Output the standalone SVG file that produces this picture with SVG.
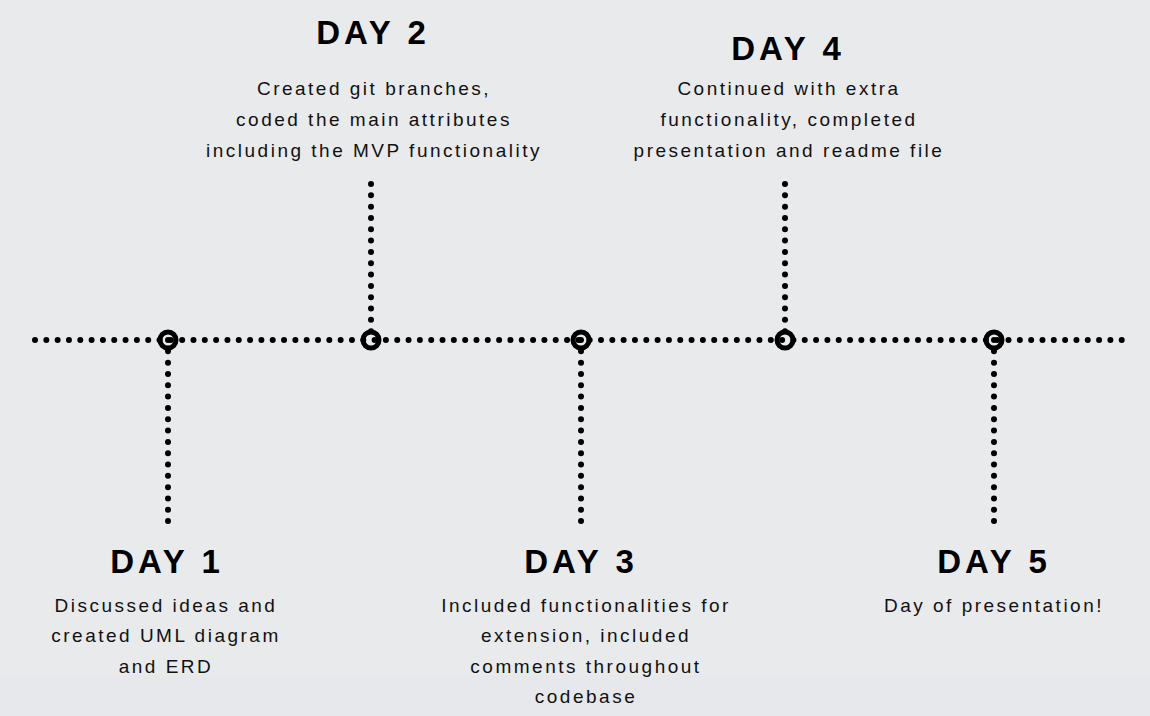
<svg xmlns="http://www.w3.org/2000/svg" width="1150" height="716" viewBox="0 0 1150 716">
  <defs>
    <style>
      .bg { fill: #e9eaec; }
      .band { fill: #e6e8eb; }
      .dots { stroke: #000; stroke-width: 6; stroke-linecap: round; stroke-dasharray: 0 11.32; fill: none; }
      .ring { fill: none; stroke: #000; stroke-width: 5; }
      .title { font-family: "Liberation Sans", Arial, sans-serif; font-weight: bold; font-size: 33px; letter-spacing: 4px; fill: #000; text-anchor: middle; }
      .body { font-family: "Liberation Sans", Arial, sans-serif; font-size: 19px; letter-spacing: 2.5px; fill: #111; text-anchor: middle; }
    </style>
  </defs>

  <rect class="bg" x="0" y="0" width="1150" height="716"/>
  <rect class="band" x="0" y="675" width="1150" height="41"/>

  <!-- dotted connectors -->
  <g id="connectors">
    <line class="dots" x1="35" y1="340" x2="1125" y2="340"/>
    <line class="dots" x1="371" y1="184" x2="371" y2="340"/>
    <line class="dots" x1="785" y1="184" x2="785" y2="340"/>
    <line class="dots" x1="168" y1="340" x2="168" y2="525"/>
    <line class="dots" x1="581" y1="340" x2="581" y2="525"/>
    <line class="dots" x1="994" y1="340" x2="994" y2="525"/>
  </g>

  <g id="day1">
    <circle class="ring" cx="168" cy="340" r="8"/>
    <text class="title" x="167" y="573">DAY 1</text>
    <text class="body" x="166" y="612">Discussed ideas and</text>
    <text class="body" x="166" y="642">created UML diagram</text>
    <text class="body" x="166" y="673">and ERD</text>
  </g>

  <g id="day2">
    <circle class="ring" cx="371" cy="340" r="8"/>
    <text class="title" x="373" y="44">DAY 2</text>
    <text class="body" x="374" y="95">Created git branches,</text>
    <text class="body" x="374" y="126">coded the main attributes</text>
    <text class="body" x="374" y="157">including the MVP functionality</text>
  </g>

  <g id="day3">
    <circle class="ring" cx="581" cy="340" r="8"/>
    <text class="title" x="581" y="573">DAY 3</text>
    <text class="body" x="586" y="612">Included functionalities for</text>
    <text class="body" x="586" y="642">extension, included</text>
    <text class="body" x="586" y="673">comments throughout</text>
    <text class="body" x="586" y="703">codebase</text>
  </g>

  <g id="day4">
    <circle class="ring" cx="785" cy="340" r="8"/>
    <text class="title" x="788" y="60">DAY 4</text>
    <text class="body" x="789" y="95">Continued with extra</text>
    <text class="body" x="789" y="126">functionality, completed</text>
    <text class="body" x="789" y="157">presentation and readme file</text>
  </g>

  <g id="day5">
    <circle class="ring" cx="994" cy="340" r="8"/>
    <text class="title" x="994" y="573">DAY 5</text>
    <text class="body" x="994" y="612">Day of presentation!</text>
  </g>
</svg>
